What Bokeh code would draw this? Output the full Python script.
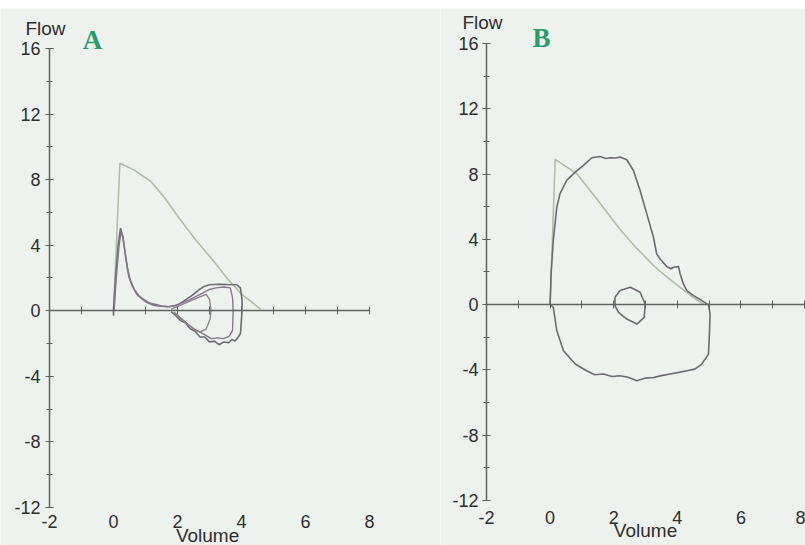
from bokeh.plotting import figure
from bokeh.layouts import row, column
from bokeh.models import (LinearAxis, SingleIntervalTicker, FixedTicker, Label, Range1d, Spacer)
from bokeh.embed import file_html
from bokeh.resources import INLINE

# ---------------- data ----------------
x_ticks = [-2, 0, 2, 4, 6, 8]
y_ticks = [-12, -8, -4, 0, 4, 8, 12, 16]

# Panel A - predicted (reference) loop
A_pred_vol = [0.0, 0.20, 0.64, 1.16, 1.57, 2.09, 2.61, 3.14, 3.55, 3.97, 4.49, 4.60]
A_pred_flow = [0.0, 9.00, 8.60, 7.90, 6.97, 5.55, 4.23, 3.01, 1.99, 1.08, 0.26, 0.10]

# Panel A - measured loops
A_m1_vol = [0.0, 0.0, 0.06, 0.15, 0.22, 0.28, 0.33, 0.40, 0.48, 0.59, 0.74, 0.88, 1.00, 1.15,
            1.31, 1.50, 1.73, 2.00, 2.25, 2.50, 2.67, 2.85, 3.00, 3.30, 3.55, 3.86, 3.97, 4.02,
            4.01, 3.97, 3.90, 3.80, 3.70, 3.60, 3.45, 3.30, 3.15, 3.00, 2.85, 2.70, 2.55, 2.40,
            2.25, 2.10, 1.95, 1.80]
A_m1_flow = [-0.3, 0.0, 1.90, 4.10, 5.04, 4.60, 4.00, 3.00, 2.10, 1.50, 0.98, 0.75, 0.57, 0.42,
             0.33, 0.28, 0.25, 0.35, 0.67, 1.00, 1.28, 1.50, 1.59, 1.62, 1.60, 1.59, 1.38, 0.60,
             -0.20, -1.36, -1.60, -1.85, -1.75, -1.95, -1.90, -2.07, -1.85, -1.90, -1.60, -1.60,
             -1.25, -1.10, -0.75, -0.60, -0.30, -0.05]

A_m2_vol = [0.02, 0.08, 0.17, 0.24, 0.30, 0.36, 0.44, 0.52, 0.65, 0.80, 0.95, 1.10, 1.30, 1.50,
            1.70, 1.90, 2.10, 2.35, 2.60, 2.80, 3.00, 3.20, 3.45, 3.65, 3.72, 3.74, 3.72, 3.62,
            3.45, 3.25, 3.05, 2.85, 2.60, 2.35, 2.10, 1.90]
A_m2_flow = [0.0, 1.80, 3.90, 4.85, 4.50, 3.60, 2.60, 1.90, 1.30, 0.90, 0.70, 0.50, 0.40, 0.30,
             0.25, 0.30, 0.45, 0.65, 0.90, 1.10, 1.30, 1.40, 1.45, 1.40, 0.80, 0.00, -1.20, -1.55,
             -1.70, -1.65, -1.70, -1.45, -1.20, -0.85, -0.45, -0.10]

A_m3_vol = [1.80, 2.10, 2.40, 2.70, 2.90, 3.00, 3.05, 3.02, 2.90, 2.70, 2.50, 2.30, 2.10, 1.90]
A_m3_flow = [0.10, 0.35, 0.60, 0.85, 1.00, 0.70, 0.00, -0.50, -1.10, -1.30, -1.10, -0.80, -0.45, -0.10]

# Panel B - predicted
B_pred_vol = [0.0, 0.16, 0.84, 1.50, 2.20, 2.70, 3.25, 3.70, 4.09, 4.50, 4.72, 4.85]
B_pred_flow = [0.0, 8.90, 8.02, 6.40, 4.60, 3.50, 2.40, 1.65, 1.06, 0.45, 0.15, 0.0]

# Panel B - measured forced loop
B_m_vol = [0.0, 0.03, 0.10, 0.21, 0.31, 0.52, 0.79, 1.05, 1.31, 1.57, 1.75, 1.89, 2.05, 2.20,
           2.41, 2.62, 2.83, 3.04, 3.25, 3.35, 3.46, 3.55, 3.67, 3.80, 3.88, 4.04, 4.09, 4.19,
           4.30, 4.51, 4.77, 4.98, 5.03, 5.01, 4.98, 4.77, 4.55, 4.30, 4.05, 3.77, 3.50, 3.25,
           3.00, 2.73, 2.45, 2.20, 1.95, 1.68, 1.40, 1.15, 0.79, 0.42, 0.21, 0.10, 0.0]
B_m_flow = [0.0, 1.88, 3.93, 5.97, 6.79, 7.61, 8.12, 8.53, 9.00, 9.08, 8.95, 9.00, 8.98, 9.04,
            8.88, 8.22, 6.99, 5.56, 4.13, 3.11, 2.80, 2.60, 2.33, 2.20, 2.29, 2.33, 1.88, 1.27,
            0.86, 0.55, 0.25, 0.0, -0.57, -1.80, -3.03, -3.64, -3.95, -4.05, -4.15, -4.25, -4.35,
            -4.46, -4.50, -4.66, -4.45, -4.36, -4.40, -4.25, -4.30, -4.05, -3.64, -2.82, -1.60,
            -0.16, 0.0]

# Panel B - small tidal loop
B_t_vol = [2.04, 2.20, 2.52, 2.83, 2.99, 2.96, 2.73, 2.41, 2.15, 2.04, 2.04]
B_t_flow = [0.45, 0.86, 1.06, 0.76, 0.04, -0.78, -1.19, -0.88, -0.47, -0.06, 0.45]

BG = "#edf2ee"
AXC = "#626262"
TXT = "#2e2e2e"
PRED = "#aebba6"
MEAS = "#6e6a72"


def hyphen_labels(ticks):
    return {t: str(t) for t in ticks}


def make_panel(width, height, xr, yr, std_x, std_y):
    p = figure(width=width, height=height, x_range=Range1d(*xr), y_range=Range1d(*yr),
               output_backend="svg", toolbar_location=None, x_axis_location=None,
               y_axis_location=None, min_border=0,
               background_fill_color=BG, border_fill_color=BG, outline_line_color=None)
    p.grid.visible = False

    yax = LinearAxis(ticker=SingleIntervalTicker(interval=4, num_minor_ticks=2),
                     fixed_location=-2, bounds=(-12, 16))
    yax.axis_line_color = AXC
    yax.axis_line_width = 1.5
    yax.major_tick_line_color = AXC
    yax.minor_tick_line_color = AXC
    yax.major_tick_in = 4
    yax.major_tick_out = 4
    yax.minor_tick_in = 3
    yax.minor_tick_out = 3
    yax.major_label_standoff = std_y
    yax.major_label_text_font = "Liberation Sans"
    yax.major_label_text_font_size = "18px"
    yax.major_label_text_color = TXT
    yax.major_label_overrides = hyphen_labels(y_ticks)
    p.add_layout(yax, "left")

    xlab = LinearAxis(ticker=FixedTicker(ticks=x_ticks), fixed_location=-12)
    xlab.axis_line_color = None
    xlab.major_tick_line_color = None
    xlab.minor_tick_line_color = None
    xlab.major_tick_out = 0
    xlab.major_tick_in = 0
    xlab.major_label_standoff = std_x
    xlab.major_label_text_font = "Liberation Sans"
    xlab.major_label_text_font_size = "18px"
    xlab.major_label_text_color = TXT
    xlab.major_label_overrides = hyphen_labels(x_ticks)
    p.add_layout(xlab, "below")

    xzero = LinearAxis(ticker=SingleIntervalTicker(interval=1, num_minor_ticks=0),
                       fixed_location=0, bounds=(-2, 8))
    xzero.axis_line_color = AXC
    xzero.axis_line_width = 1.5
    xzero.major_tick_line_color = AXC
    xzero.minor_tick_line_color = None
    xzero.major_tick_in = 4
    xzero.major_tick_out = 4
    xzero.major_label_text_font_size = "0px"
    xzero.major_label_text_color = None
    p.add_layout(xzero, "below")
    return p


def add_labels(p, flow_dx, flow_dy, letter, let_dx, let_dy, vol_x, vol_dy):
    p.add_layout(Label(x=-2, y=16, x_offset=flow_dx, y_offset=flow_dy, text="Flow",
                       text_align="center", text_baseline="middle", text_font="Liberation Sans",
                       text_font_size="19px", text_color=TXT))
    p.add_layout(Label(x=-2, y=16, x_offset=let_dx, y_offset=let_dy, text=letter,
                       text_align="center", text_baseline="middle", text_font="Liberation Serif",
                       text_font_style="bold", text_font_size="27px", text_color="#2b9b6b"))
    p.add_layout(Label(x=vol_x, y=-12, y_offset=vol_dy, text="Volume",
                       text_align="center", text_baseline="middle", text_font="Liberation Sans",
                       text_font_size="19px", text_color=TXT))


# Panel A : -2 -> px 49, 8 -> px 369 ; 16 -> px 40 (fig), -12 -> px 499 (fig)
pA = make_panel(440, 537, (-3.531, 10.219), (-14.318, 18.44), 7, 5)
pA.line(A_pred_vol, A_pred_flow, line_color=PRED, line_width=1.5)
pA.line(A_m1_vol, A_m1_flow, line_color=MEAS, line_width=1.6)
pA.line(A_m2_vol, A_m2_flow, line_color="#857a88", line_width=1.4)
pA.line(A_m3_vol, A_m3_flow, line_color="#8a7f8c", line_width=1.3)
add_labels(pA, -4, 20, "A", 43, 8, 2.94, -28)

# Panel B
pB = make_panel(365, 537, (-3.447, 8.031), (-14.757, 18.144), 10, 4)
pB.line(B_pred_vol, B_pred_flow, line_color=PRED, line_width=1.5)
pB.line(B_m_vol, B_m_flow, line_color=MEAS, line_width=1.6)
pB.line(B_t_vol, B_t_flow, line_color=MEAS, line_width=1.6)
add_labels(pB, -4, 21, "B", 55, 5, 3.0, -30)

layout = column(Spacer(height=8, width=805), row(pA, pB))
open("out.html", "w").write(file_html(layout, INLINE))
